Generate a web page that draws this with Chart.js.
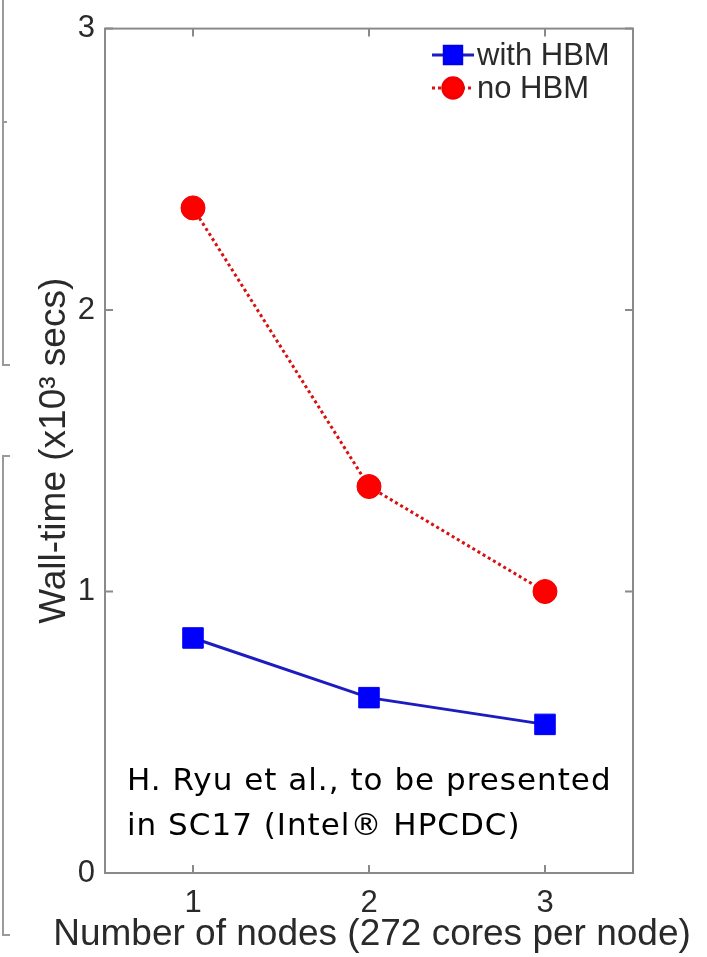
<!DOCTYPE html>
<html>
<head>
<meta charset="utf-8">
<script src="https://cdn.jsdelivr.net/npm/chart.js@4.4.1/dist/chart.umd.min.js"></script>
<style>
    body { margin: 0; background: #fff; }
</style>
</head>
<body>
<canvas id="wallChart" width="707" height="957"></canvas>
<script>
// Datos
const nodes = [1, 2, 3];
const withHBM = [0.835, 0.623, 0.528];
const noHBM = [2.363, 1.373, 1.0];
const yTicks = [0, 1, 2, 3];
const seriesNames = ["with HBM", "no HBM"];
const xTitle = "Number of nodes (272 cores per node)";
const yTitle = "Wall-time (x10³ secs)";
const noteLines = ["H. Ryu et al., to be presented", "in SC17 (Intel® HPCDC)"];

const FONT = "'Liberation Sans', Arial, sans-serif";
const TEXT = "#2a2a2a";
const FRAME = "#8a8a8a";

//Marco y ticks hacia dentro
const framePlugin = {
    id: "frame",
    beforeDatasetsDraw(chart) {
        const { ctx, chartArea: a, scales: { x, y } } = chart;
        ctx.save();
        ctx.strokeStyle = FRAME;
        ctx.lineWidth = 2;
        ctx.strokeRect(a.left, a.top, a.right - a.left, a.bottom - a.top);
        ctx.beginPath();
        nodes.forEach(v => {
            const px = x.getPixelForValue(v);
            ctx.moveTo(px, a.bottom); ctx.lineTo(px, a.bottom - 8);
            ctx.moveTo(px, a.top); ctx.lineTo(px, a.top + 8);
        });
        yTicks.forEach(v => {
            const py = y.getPixelForValue(v);
            ctx.moveTo(a.left, py); ctx.lineTo(a.left + 8, py);
            ctx.moveTo(a.right, py); ctx.lineTo(a.right - 8, py);
        });
        ctx.stroke();

        //Restos del grafico vecino a la izquierda
        ctx.strokeStyle = "#9a9a9a";
        ctx.beginPath();
        ctx.moveTo(3, 0); ctx.lineTo(3, 365); ctx.lineTo(10, 365);
        ctx.moveTo(3, 122); ctx.lineTo(7, 122);
        ctx.moveTo(10, 456); ctx.lineTo(3, 456); ctx.lineTo(3, 935); ctx.lineTo(10, 935);
        ctx.stroke();

        //Titulo del eje x (sin comprimir)
        ctx.fillStyle = TEXT;
        ctx.font = "37px " + FONT;
        ctx.textAlign = "center";
        ctx.textBaseline = "middle";
        ctx.fillText(xTitle, 372, 935);
        ctx.restore();
    }
};

//Leyenda con linea y marcador
const legendPlugin = {
    id: "lineLegend",
    afterDraw(chart) {
        const ctx = chart.ctx;
        const rows = [55, 88];
        chart.data.datasets.forEach((ds, i) => {
            const yy = rows[i];
            ctx.save();
            ctx.strokeStyle = ds.borderColor;
            ctx.lineWidth = ds.borderWidth;
            ctx.setLineDash(ds.borderDash || []);
            ctx.beginPath();
            ctx.moveTo(432, yy);
            ctx.lineTo(474, yy);
            ctx.stroke();
            ctx.setLineDash([]);
            ctx.fillStyle = ds.pointBackgroundColor;
            ctx.strokeStyle = ds.pointBorderColor;
            Chart.helpers.drawPoint(ctx, { pointStyle: ds.pointStyle, radius: ds.pointRadius * 0.85, borderWidth: 1, rotation: 0 }, 453, yy);
            ctx.fillStyle = TEXT;
            ctx.font = "31px " + FONT;
            ctx.textBaseline = "middle";
            ctx.textAlign = "left";
            ctx.fillText(ds.label, 477, yy + 1);
            ctx.restore();
        });
    }
};

//Nota de texto
const notePlugin = {
    id: "note",
    afterDraw(chart) {
        const ctx = chart.ctx;
        ctx.save();
        ctx.fillStyle = "#000";
        ctx.font = "31px 'DejaVu Sans', 'Noto Sans', sans-serif";
        ctx.letterSpacing = "1px";
        ctx.textBaseline = "alphabetic";
        ctx.textAlign = "left";
        ctx.fillText(noteLines[0], 127, 790);
        ctx.fillText(noteLines[1], 127, 835);
        ctx.restore();
    }
};

const chart = new Chart(document.getElementById("wallChart"), {
    type: "line",
    data: {
        datasets: [{
            label: seriesNames[0],
            data: nodes.map((n, i) => ({ x: n, y: withHBM[i] })),
            borderColor: "#1c1cc0",
            borderWidth: 3,
            pointStyle: "rect",
            pointRadius: 14.5,
            pointBackgroundColor: "#0000ff",
            pointBorderColor: "#0000ee",
            pointBorderWidth: 1,
            tension: 0
        }, {
            label: seriesNames[1],
            data: nodes.map((n, i) => ({ x: n, y: noHBM[i] })),
            borderColor: "#d81010",
            borderWidth: 3,
            borderDash: [3, 3],
            pointStyle: "circle",
            pointRadius: 12,
            pointBackgroundColor: "#ff0000",
            pointBorderColor: "#f00000",
            pointBorderWidth: 1,
            tension: 0
        }]
    },
    options: {
        responsive: false,
        animation: false,
        devicePixelRatio: 1,
        layout: { padding: { left: 0, right: 74, top: 21, bottom: 0 } },
        plugins: {
            legend: { display: false },
            tooltip: { enabled: false }
        },
        scales: {
            x: {
                type: "linear",
                min: 0.5,
                max: 3.5,
                afterBuildTicks: s => { s.ticks = nodes.map(v => ({ value: v })); },
                afterFit: s => { s.height = 84; },
                grid: { display: false, drawTicks: false },
                border: { display: false },
                ticks: { font: { family: FONT, size: 31 }, color: TEXT, padding: 12 }
            },
            y: {
                min: 0,
                max: 3,
                afterBuildTicks: s => { s.ticks = yTicks.map(v => ({ value: v })); },
                afterFit: s => { s.width = 105; },
                grid: { display: false, drawTicks: false },
                border: { display: false },
                ticks: { font: { family: FONT, size: 31 }, color: TEXT, padding: 10 },
                title: {
                    display: true,
                    text: yTitle,
                    color: TEXT,
                    font: { family: FONT, size: 37 },
                    padding: { top: 33, bottom: 0 }
                }
            }
        }
    },
    plugins: [framePlugin, legendPlugin, notePlugin]
});
</script>
</body>
</html>
